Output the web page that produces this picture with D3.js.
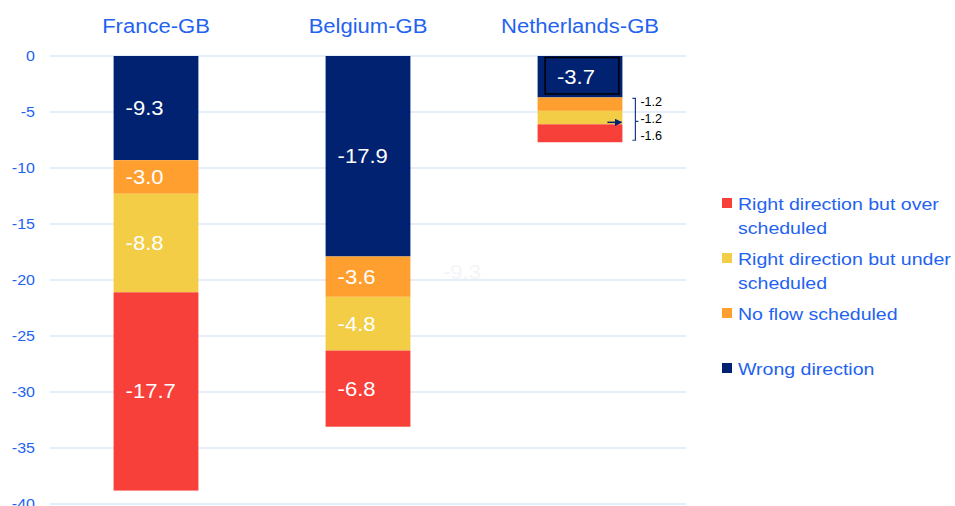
<!DOCTYPE html>
<html><head><meta charset="utf-8">
<script src="https://cdn.jsdelivr.net/npm/d3@7"></script>
<style>body{margin:0;background:#fff}svg{display:block;font-family:"Liberation Sans",Arial,sans-serif}</style>
</head><body><svg id="c" width="955" height="506"></svg>
<script>
const categories = ["France-GB", "Belgium-GB", "Netherlands-GB"];
const seriesNames = ["Wrong direction", "No flow scheduled", "Right direction but under scheduled", "Right direction but over scheduled"];
const wrongDirection = [-9.3, -17.9, -3.7];
const noFlow = [-3.0, -3.6, -1.2];
const underScheduled = [-8.8, -4.8, -1.2];
const overScheduled = [-17.7, -6.8, -1.6];
const yTicks = [0, -5, -10, -15, -20, -25, -30, -35, -40];
const legendLines = [["Right direction but over", "scheduled"], ["Right direction but under", "scheduled"], ["No flow scheduled"], ["Wrong direction"]];

const colors = ["#002270", "#FF9F2F", "#F2CD45", "#F8403A"];
const blue = "#1F63F0";
const fmt = v => d3.format(".1f")(v).replace("\u2212", "-");
const svg = d3.select("#c");
const y = d3.scaleLinear().domain([0, -40]).range([56, 504]);
const x = d3.scaleBand().domain(categories).range([50, 686]).paddingInner(0.6).paddingOuter(0.3);

function txt(g, tx, ty, t, size, fill, anchor, sx) {
  return g.append("text").attr("transform", `translate(${tx},${ty}) scale(${sx},1)`)
    .attr("text-anchor", anchor || "start").attr("fill", fill).style("font-size", size + "px").text(t);
}

// gridlines
svg.append("g").selectAll("line").data(yTicks).join("line")
  .attr("x1", 50).attr("x2", 686).attr("y1", d => y(d)).attr("y2", d => y(d))
  .attr("stroke", "#cddcf8").attr("stroke-width", 1.2);
// y axis labels
const ax = svg.append("g");
yTicks.forEach(t => txt(ax, 35, y(t) + 5, String(t).replace("\u2212", "-"), 15, blue, "end", 1.07));

// titles
const tg = svg.append("g");
categories.forEach(c => txt(tg, x(c) + x.bandwidth() / 2, 33, c, 19.5, blue, "middle", 1.13));

const series = [wrongDirection, noFlow, underScheduled, overScheduled];
const stacks = categories.map((c, i) => {
  let acc = 0;
  return series.map((s, k) => { const v0 = acc; acc += s[i]; return { c, k, v: s[i], v0, v1: acc }; });
});
const segs = stacks.flat();
svg.append("g").selectAll("rect").data(segs).join("rect")
  .attr("x", d => x(d.c)).attr("width", x.bandwidth())
  .attr("y", d => y(d.v0)).attr("height", d => y(d.v1) - y(d.v0))
  .attr("fill", d => colors[d.k]);

// labels inside bars (France, Belgium)
const lbl = svg.append("g");
segs.filter(d => d.c !== "Netherlands-GB").forEach(d =>
  txt(lbl, x(d.c) + 12, (y(d.v0) + y(d.v1)) / 2 + 7, fmt(d.v), 19.5, "#fff", "start", 1.13));

// Netherlands annotations
const nl = stacks[2];
const nx = x("Netherlands-GB"), bw = x.bandwidth();
svg.append("rect").attr("x", nx + 7.5).attr("y", y(0) + 1.5).attr("width", bw - 11).attr("height", y(nl[0].v1) - y(0) - 5)
  .attr("fill", "none").attr("stroke", "#000").attr("stroke-width", 1.5);
txt(svg, nx + bw / 2 - 4, (y(nl[0].v0) + y(nl[0].v1)) / 2 + 7, fmt(nl[0].v), 19.5, "#fff", "middle", 1.13);
const sg = svg.append("g");
nl.slice(1).forEach((d, i) => txt(sg, nx + bw + 18, y(nl[1].v0) + 9 + i * 17, fmt(d.v), 12, "#000", "start", 1.05));
const bxr = nx + bw + 13, bt = y(nl[1].v0) + 1, bb = y(nl[3].v1) - 2, bm = (bt + bb) / 2 + 2;
svg.append("path").attr("d", `M${bxr - 3},${bt} L${bxr},${bt} L${bxr},${bb} L${bxr - 3},${bb} M${bxr},${bm} L${bxr + 3},${bm}`)
  .attr("fill", "none").attr("stroke", "#1a3a8a").attr("stroke-width", 1.2);
svg.append("defs").append("marker").attr("id", "ah").attr("viewBox", "0 0 10 10").attr("refX", 9).attr("refY", 5)
  .attr("markerWidth", 5).attr("markerHeight", 5).attr("orient", "auto")
  .append("path").attr("d", "M0,0 L10,5 L0,10 z").attr("fill", "#002270");
svg.append("line").attr("x1", nx + bw - 15).attr("x2", nx + bw - 1).attr("y1", bm + 1).attr("y2", bm + 1)
  .attr("stroke", "#002270").attr("stroke-width", 1.5).attr("marker-end", "url(#ah)");

// faint ghost label
txt(svg, 443, 279, "-9.3", 19.5, "#f4f5f8", "start", 1.13);

// legend
const legY = [204, 259, 314, 369];
const lcol = [colors[3], colors[2], colors[1], colors[0]];
const lg = svg.append("g");
legendLines.forEach((lines, i) => {
  lg.append("rect").attr("x", 722).attr("y", legY[i] - 6).attr("width", 10).attr("height", 10).attr("fill", lcol[i]);
  lines.forEach((t, j) => txt(lg, 738, legY[i] + 6 + j * 24, t, 17, blue, "start", 1.15));
});
</script></body></html>
